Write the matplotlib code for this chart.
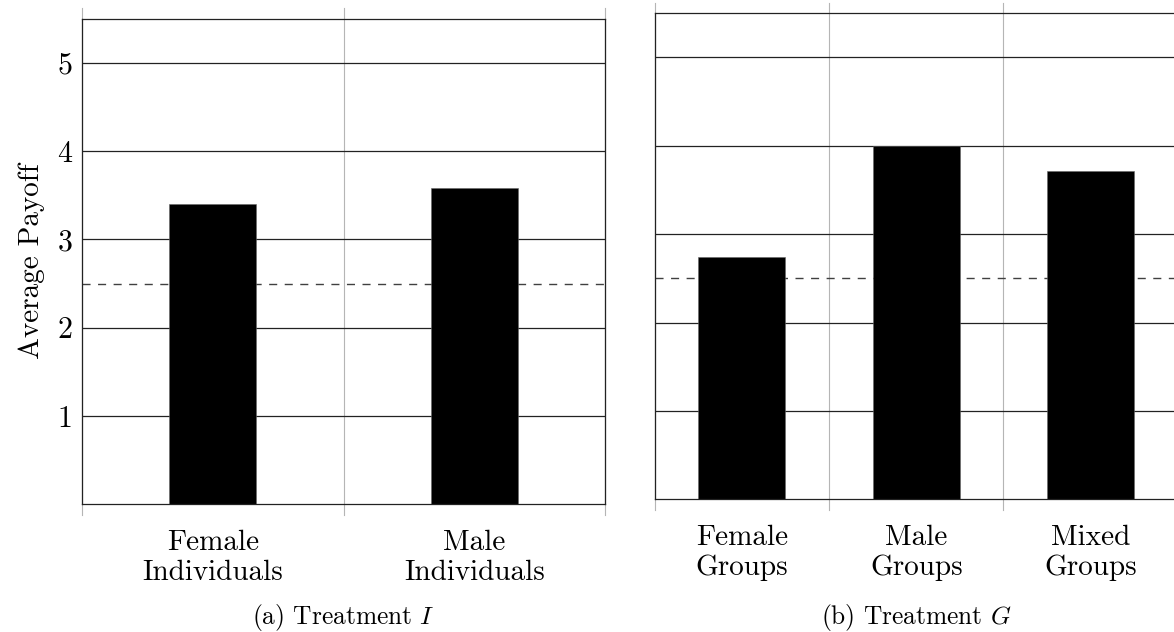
import matplotlib
matplotlib.use("Agg")
import matplotlib.pyplot as plt

# dados
categorias_ind = ["Female\nIndividuals", "Male\nIndividuals"]
payoff_ind = [3.40, 3.58]

categorias_grp = ["Female\nGroups", "Male\nGroups", "Mixed\nGroups"]
payoff_grp = [2.74, 4.00, 3.72]

y_ticks = [1, 2, 3, 4, 5]
referencia = 2.5

plt.rcParams["font.family"] = "serif"
plt.rcParams["font.serif"] = ["cmr10"]
plt.rcParams["mathtext.fontset"] = "cm"
plt.rcParams["axes.unicode_minus"] = False


def desenhar_painel(ax, categorias, valores, largura, mostrar_y):
    n = len(categorias)
    centros = [i + 0.5 for i in range(n)]

    ax.set_xlim(0, n)
    ax.set_ylim(0, 5.5)
    ax.set_axisbelow(True)

    # linhas horizontais
    for y in y_ticks:
        ax.axhline(y, color="#222222", lw=0.9, zorder=1)
    ax.axhline(referencia, color="#404040", lw=1.0,
               linestyle=(0, (5.8, 5.4)), zorder=1)

    # separadores verticais que passam da borda
    for x in range(n + 1):
        ax.axvline(x, ymin=-0.022, ymax=1.022, color="#b5b5b5", lw=0.8,
                   clip_on=False, zorder=0.5)

    ax.bar(centros, valores, width=largura, color="black",
           edgecolor="#666666", linewidth=0.4, zorder=3)

    ax.set_xticks(centros)
    ax.set_xticklabels(categorias, fontsize=21, linespacing=1.17)
    ax.tick_params(axis="x", length=0, pad=18.5)

    ax.set_yticks(y_ticks)
    if mostrar_y:
        ax.set_yticklabels([str(v) for v in y_ticks], fontsize=21.5)
        ax.tick_params(axis="y", length=0, pad=7)
        ax.set_ylabel("Average Payoff", fontsize=21, labelpad=9)
    else:
        ax.set_yticklabels([])
        ax.tick_params(axis="y", length=0)

    for lado in ["left", "right", "top", "bottom"]:
        ax.spines[lado].set_color("#222222")
        ax.spines[lado].set_linewidth(0.9)
        ax.spines[lado].set_zorder(4)


fig = plt.figure(figsize=(11.74, 6.32), dpi=100)

ax1 = fig.add_axes([82 / 1174, 127.7 / 632, 523 / 1174, 485.6 / 632])
ax2 = fig.add_axes([654.7 / 1174, 132.7 / 632, 523 / 1174, 486.0 / 632])

desenhar_painel(ax1, categorias_ind, payoff_ind, 1 / 3, True)
desenhar_painel(ax2, categorias_grp, payoff_grp, 0.5, False)

fig.text(343.5 / 1174, 8 / 632, "(a) Treatment $I$", fontsize=18.3,
         ha="center", va="baseline")
fig.text(916 / 1174, 8 / 632, "(b) Treatment $G$", fontsize=18.3,
         ha="center", va="baseline")

fig.savefig("out.png", dpi=100)
